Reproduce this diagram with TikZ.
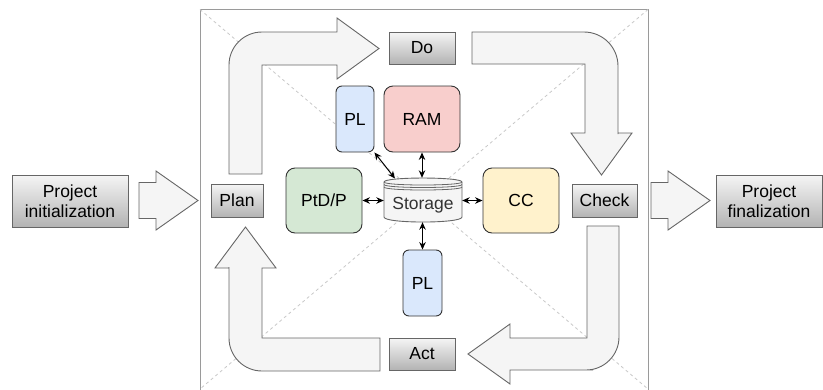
\documentclass[tikz,border=0pt]{standalone}
\usepackage{fontspec}
\setmainfont{Liberation Sans}
\usetikzlibrary{arrows.meta}
\definecolor{boxstroke}{HTML}{666666}
\definecolor{boxtop}{HTML}{F5F5F5}
\definecolor{boxbot}{HTML}{B3B3B3}
\definecolor{framecol}{HTML}{9A9A9A}
\definecolor{diagcol}{HTML}{C8C8C8}
\definecolor{arrowfill}{HTML}{F5F5F5}
\definecolor{plfill}{HTML}{DAE8FC}
\definecolor{ramfill}{HTML}{F8CECC}
\definecolor{ptdfill}{HTML}{D5E8D4}
\definecolor{ccfill}{HTML}{FFF2CC}
\definecolor{darkstroke}{HTML}{333333}
\definecolor{storetext}{HTML}{333333}
\begin{document}
\begin{tikzpicture}[x=1pt,y=-1pt,
  every node/.style={font=\fontsize{17.5}{20.5}\selectfont, inner sep=0pt, align=center},
  graybox/.style={draw=boxstroke, line width=0.9pt, top color=boxtop, bottom color=boxbot, rectangle},
  blockarrow/.style={draw=boxstroke, line width=0.9pt, fill=arrowfill, line join=miter},
  colbox/.style={draw=darkstroke, line width=0.9pt, rectangle, rounded corners=#1},
  colbox/.default=9pt,
  link/.style={draw=black, line width=1pt, {Stealth[length=7.5pt,width=6.5pt]}-{Stealth[length=7.5pt,width=6.5pt]}},
]
\useasboundingbox (0,0) rectangle (823,389);

% frame and diagonals
\draw[framecol, line width=0.9pt] (200,390) -- (200,9.5) -- (648,9.5) -- (648,390);
\draw[diagcol, line width=0.8pt, dash pattern=on 3pt off 3pt] (200,9.5) -- (648,389);
\draw[diagcol, line width=0.8pt, dash pattern=on 3pt off 3pt] (648,9.5) -- (200,389);

% straight block arrows
\draw[blockarrow] (139,182.5) -- (156,182.5) -- (156,171) -- (198,200.5) -- (156,230) -- (156,218.5) -- (139,218.5) -- cycle;
\draw[blockarrow] (651,182.5) -- (668,182.5) -- (668,171) -- (710,200.5) -- (668,230) -- (668,218.5) -- (651,218.5) -- cycle;

% curved block arrows
\draw[blockarrow] (229,174) -- (229,100) {[rounded corners=33pt] -- (229,32) -- (300,32)} -- (337,32) -- (337,18) -- (379,48.5) -- (337,79) -- (337,65) -- (262,65) -- (262,174) -- cycle;
\draw[blockarrow] (472,32) -- (550,32) {[rounded corners=34pt] -- (618,32) -- (618,100)} -- (618,133) -- (632,133) -- (601.5,175) -- (571,133) -- (585,133) -- (585,64) -- (472,64) -- cycle;
\draw[blockarrow] (587,226) -- (619,226) -- (619,300) {[rounded corners=33pt] -- (619,370) -- (560,370)} -- (510,370) -- (510,384) -- (468,354) -- (510,324) -- (510,338) -- (587,338) -- cycle;
\draw[blockarrow] (380,338) -- (380,371) -- (300,371) {[rounded corners=33pt] -- (229,371) -- (229,300)} -- (229,268) -- (215,268) -- (245.5,227) -- (276,268) -- (262,268) -- (262,338) -- cycle;

% gray boxes
\node[graybox, minimum width=116pt, minimum height=52pt] (init) at (70,201) {Project\\initialization};
\node[graybox, minimum width=106pt, minimum height=52pt] (final) at (769,201) {Project\\finalization};
\node[graybox, minimum width=52pt, minimum height=33pt] (plan) at (237,200.5) {Plan};
\node[graybox, minimum width=65pt, minimum height=33pt] (check) at (604.5,200.5) {Check};
\node[graybox, minimum width=66pt, minimum height=32pt] (do) at (422,48) {Do};
\node[graybox, minimum width=66pt, minimum height=32pt] (act) at (422,354) {Act};

% coloured boxes
\node[colbox=6pt, fill=plfill, minimum width=38pt, minimum height=66pt] (plt) at (355,119) {PL};
\node[colbox, fill=ramfill, minimum width=76pt, minimum height=66pt] (ram) at (422,119) {RAM};
\node[colbox, fill=ptdfill, minimum width=76pt, minimum height=65pt] (ptdp) at (324,200.5) {PtD/P};
\node[colbox, fill=ccfill, minimum width=76pt, minimum height=65pt] (cc) at (521,200.5) {CC};
\node[colbox=6pt, fill=plfill, minimum width=39pt, minimum height=66pt] (plb) at (422.5,283) {PL};

% storage cylinder
\draw[draw=boxstroke, line width=0.9pt, fill=boxtop]
  (384,182) -- (384,217) .. controls (384,223.7) and (462,223.7) .. (462,217)
  -- (462,182) .. controls (462,176.7) and (384,176.7) .. (384,182) -- cycle;
\draw[boxstroke, line width=0.8pt] (384,182) .. controls (384,186) and (462,186) .. (462,182);
\draw[boxstroke, line width=0.8pt] (384,184.5) .. controls (384,188.5) and (462,188.5) .. (462,184.5);
\draw[boxstroke, line width=0.8pt] (384,187) .. controls (384,191) and (462,191) .. (462,187);
\node[minimum width=78pt, minimum height=44pt] (storage) at (423,200) {};
\node[text=storetext] (storelabel) at (423,205) {Storage};

% links
\coordinate (stl) at (395,178.5);
\draw[link] (ptdp.east) -- (storage.west |- ptdp.east);
\draw[link] (storage.east |- cc.west) -- (cc.west);
\draw[link] (ram.south) -- (ram.south |- storage.north);
\draw[link] (plb.north |- storage.south) -- (plb.north);
\draw[link] (plt.south east) -- (stl);
\end{tikzpicture}
\end{document}
